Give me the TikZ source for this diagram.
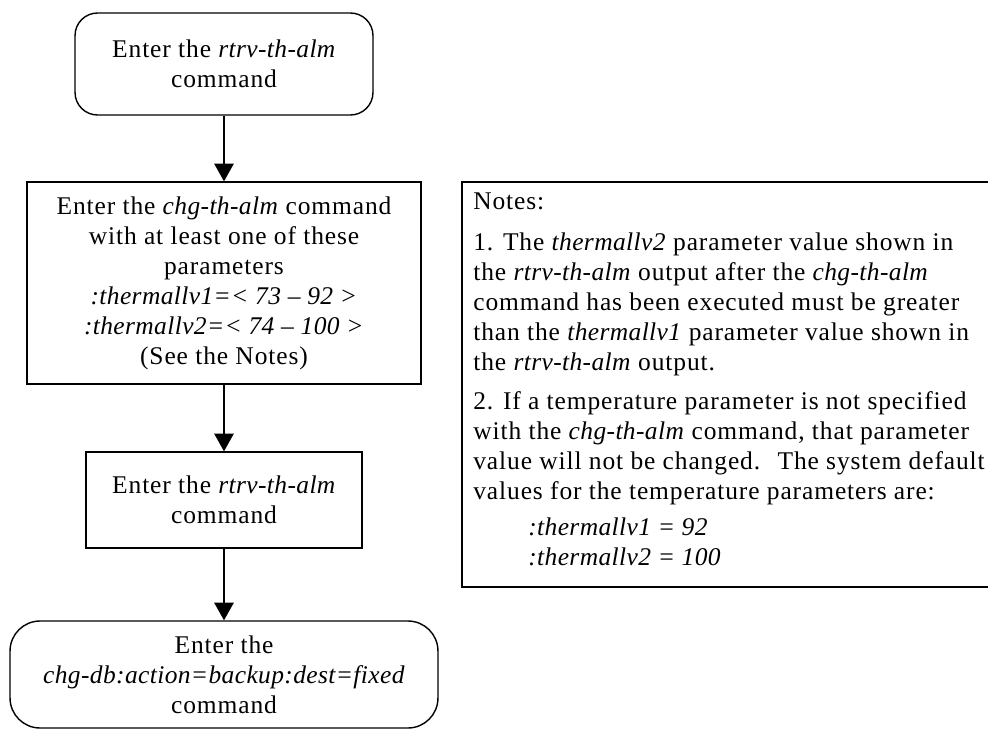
\documentclass[tikz,border=0pt]{standalone}
\usepackage{fontspec}
\setmainfont{Liberation Serif}[LetterSpace=3.5, ItalicFeatures={LetterSpace=1.5}]
\usepackage{tikz}
\usetikzlibrary{arrows.meta, positioning}
\newcommand{\flowfont}{\fontsize{14.5}{17.1}\selectfont}
\tikzstyle{terminal} = [draw, line width=0.8pt, rounded corners=0.45cm, align=center,
                        font=\flowfont, inner sep=2pt]
\tikzstyle{process} = [draw, line width=0.8pt, align=center, font=\flowfont, inner sep=2pt]
\tikzstyle{flow} = [line width=0.8pt, -{Triangle[length=10pt, width=11pt]}]
\tikzstyle{notetext} = [align=left, font=\flowfont, inner sep=0pt, anchor=north west]

\begin{document}
\begin{tikzpicture}[x=0.02cm, y=-0.02cm]
                    \useasboundingbox (0, 0) rectangle (988, 730);
                    \node[terminal, minimum width=5.96cm, minimum height=2.04cm] (rtrv1) at (224, 64)
                        {Enter the \textit{rtrv-th-alm}\\command};
                    \node[process, minimum width=7.88cm, minimum height=4.04cm] (chg) at (224, 283)
                        {Enter the \textit{chg-th-alm} command\\with at least one of these\\parameters\\
                         \textit{:thermallv1=< 73 -- 92 >}\\\textit{:thermallv2=< 74 -- 100 >}\\(See the Notes)};
                    \node[process, minimum width=5.52cm, minimum height=1.92cm] (rtrv2) at (224, 500)
                        {Enter the \textit{rtrv-th-alm}\\command};
                    \node[terminal, rounded corners=0.6cm, minimum width=8.56cm, minimum height=2.14cm] (chgdb) at (224, 674.5)
                        {Enter the\\\textit{chg-db:action=backup:dest=fixed}\\command};
                    \draw[flow] (rtrv1) -- (chg);
                    \draw[flow] (chg) -- (rtrv2);
                    \draw[flow] (rtrv2) -- (chgdb);
                    % notes box, right side runs off the page
                    \draw[line width=0.8pt] (462, 182) rectangle (995, 587);
                    \node[notetext] (notes) at (473, 192)
                        {Notes:\\[0.22cm]
                         1. The \textit{thermallv2} parameter value shown in\\
                         the \textit{rtrv-th-alm} output after the \textit{chg-th-alm}\\
                         command has been executed must be greater\\
                         than the \textit{thermallv1} parameter value shown in\\
                         the \textit{rtrv-th-alm} output.\\[0.18cm]
                         2. If a temperature parameter is not specified\\
                         with the \textit{chg-th-alm} command, that parameter\\
                         value will not be changed.\hspace{0.3em} The system default\\
                         values for the temperature parameters are:\\[0.12cm]
                         \hspace{1.1cm}\textit{:thermallv1 = 92}\\
                         \hspace{1.1cm}\textit{:thermallv2 = 100}};
                \end{tikzpicture}
\end{document}
